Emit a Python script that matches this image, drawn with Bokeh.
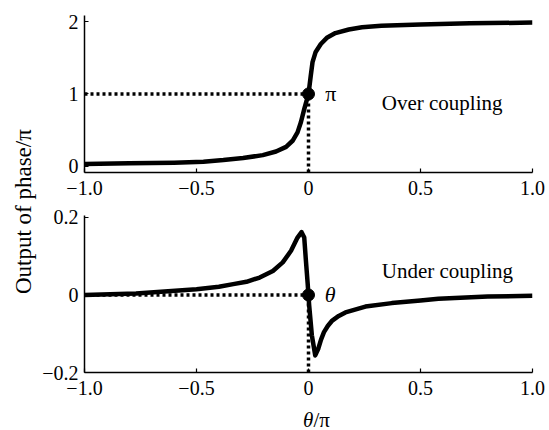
from math import pi
from bokeh.plotting import figure
from bokeh.layouts import row, column
from bokeh.models import Label, Range1d, FixedTicker
from bokeh.embed import file_html
from bokeh.resources import INLINE

# ---- tick values / labels ----
x_ticks = [-1.0, -0.5, 0.0, 0.5, 1.0]
x_tick_labels = ["\u22121.0", "\u22120.5", "0", "0.5", "1.0"]
over_y_ticks = [0, 1, 2]
over_y_tick_labels = ["0", "1", "2"]
under_y_ticks = [-0.2, 0.0, 0.2]
under_y_tick_labels = ["\u22120.2", "0", "0.2"]

# ---- over coupling curve (phase / pi) ----
over_x = [-1.0, -0.8, -0.6, -0.469, -0.38, -0.292, -0.204, -0.145, -0.1, -0.071, -0.049,
          -0.034, -0.019, 0.0, 0.01, 0.018, 0.032, 0.055, 0.084, 0.12, 0.18, 0.239, 0.325,
          0.5, 0.72, 1.0]
over_y = [0.035, 0.042, 0.052, 0.066, 0.087, 0.115, 0.156, 0.206, 0.27, 0.354, 0.47,
          0.61, 0.79, 1.0, 1.25, 1.44, 1.58, 1.69, 1.78, 1.84, 1.89, 1.92, 1.94,
          1.96, 1.975, 1.985]

# ---- under coupling curve (phase / pi) ----
under_x = [-1.0, -0.77, -0.5, -0.4, -0.336, -0.277, -0.218, -0.159, -0.115, -0.078, -0.049,
           -0.031, -0.019, -0.012, -0.004, 0.003, 0.015, 0.03, 0.044, 0.056, 0.069, 0.086,
           0.106, 0.135, 0.165, 0.254, 0.372, 0.5, 0.58, 0.8, 1.0]
under_y = [0.0, 0.004, 0.015, 0.021, 0.028, 0.034, 0.045, 0.062, 0.084, 0.114, 0.148,
           0.162, 0.148, 0.092, 0.032, -0.027, -0.104, -0.156, -0.138, -0.115, -0.096,
           -0.08, -0.066, -0.054, -0.045, -0.03, -0.021, -0.014, -0.01, -0.004, -0.002]

# ---- marked points and axis ranges ----
over_point = (0.0, 1.0)
under_point = (0.0, 0.0)
over_yrange = (-0.084, 2.083)
under_yrange = (-0.2, 0.205)

FONT = "Liberation Serif"


def style(p, yticks, ylabels):
    p.xgrid.visible = False
    p.ygrid.visible = False
    p.outline_line_color = None
    p.background_fill_color = "white"
    p.border_fill_color = "white"
    p.xaxis.ticker = FixedTicker(ticks=x_ticks)
    p.xaxis.major_label_overrides = dict(zip(x_ticks, x_tick_labels))
    p.yaxis.ticker = FixedTicker(ticks=yticks)
    p.yaxis.major_label_overrides = dict(zip(yticks, ylabels))
    for ax in (p.xaxis[0], p.yaxis[0]):
        ax.axis_line_color = "black"
        ax.axis_line_width = 1.5
        ax.major_tick_in = 4
        ax.major_tick_out = 0
        ax.major_tick_line_color = "black"
        ax.major_tick_line_width = 1.2
        ax.minor_tick_line_color = None
        ax.major_label_text_font = FONT
        ax.major_label_text_font_size = "20px"
        ax.major_label_text_color = "black"
    p.xaxis.major_label_standoff = 8
    p.yaxis.major_label_standoff = 6


def panel(height, bt, bb, yr, yticks, ylabels, cx, cy, pt):
    p = figure(width=507, height=height, x_range=Range1d(-1.0, 1.0),
               y_range=Range1d(*yr), toolbar_location=None, output_backend="svg",
               min_border_left=41, min_border_right=14, min_border_top=bt,
               min_border_bottom=bb)
    style(p, yticks, ylabels)
    p.line([x_ticks[0], pt[0]], [pt[1], pt[1]], line_color="black", line_width=3.5,
           line_dash="3 3")
    p.line([pt[0], pt[0]], [yr[0], pt[1]], line_color="black", line_width=3.5,
           line_dash="3 3")
    p.line(cx, cy, line_color="black", line_width=4.5, line_join="round")
    p.scatter([pt[0]], [pt[1]], size=12, color="black")
    return p


top = panel(205, 15, 33, over_yrange, over_y_ticks, over_y_tick_labels,
            over_x, over_y, over_point)
bot = panel(200, 10, 33, under_yrange, under_y_ticks, under_y_tick_labels,
            under_x, under_y, under_point)

top.add_layout(Label(x=0.075, y=1.0, text="\u03c0", text_font=FONT, text_font_size="22px",
                     text_align="left", text_baseline="middle", text_color="black"))
top.add_layout(Label(x=0.327, y=0.88, text="Over coupling", text_font=FONT,
                     text_font_size="21px", text_align="left", text_baseline="middle",
                     text_color="black"))
bot.add_layout(Label(x=0.072, y=0.0, text="\u03b8", text_font=FONT, text_font_size="22px",
                     text_font_style="italic", text_align="left", text_baseline="middle",
                     text_color="black"))
bot.add_layout(Label(x=0.327, y=0.063, text="Under coupling", text_font=FONT,
                     text_font_size="21px", text_align="left", text_baseline="middle",
                     text_color="black"))

# strip under the bottom panel holding the x-axis title (italic theta + upright /pi)
xt = figure(width=507, height=25, x_range=Range1d(-1.0, 1.0), y_range=Range1d(0, 1),
            toolbar_location=None, output_backend="svg", min_border_left=41,
            min_border_right=14, min_border_top=0, min_border_bottom=0)
xt.axis.visible = False
xt.xgrid.visible = False
xt.ygrid.visible = False
xt.outline_line_color = None
xt.add_layout(Label(x=0.022, y=0.44, text="\u03b8", text_font=FONT, text_font_size="21px",
                    text_font_style="italic", text_align="right", text_baseline="middle",
                    text_color="black"))
xt.add_layout(Label(x=0.022, y=0.44, text="/\u03c0", text_font=FONT, text_font_size="21px",
                    text_align="left", text_baseline="middle", text_color="black"))

# left strip holding the shared y-axis title
strip = figure(width=39, height=430, x_range=Range1d(0, 1), y_range=Range1d(0, 1),
               toolbar_location=None, output_backend="svg", min_border_left=0,
               min_border_right=0, min_border_top=0, min_border_bottom=0)
strip.axis.visible = False
strip.xgrid.visible = False
strip.ygrid.visible = False
strip.outline_line_color = None
strip.add_layout(Label(x=0.6, y=0.509, text="Output of phase/\u03c0", angle=pi / 2,
                       text_font=FONT, text_font_size="23px", text_align="center",
                       text_baseline="middle", text_color="black"))

layout = row(strip, column(top, bot, xt))
open("out.html", "w").write(file_html(layout, INLINE))
